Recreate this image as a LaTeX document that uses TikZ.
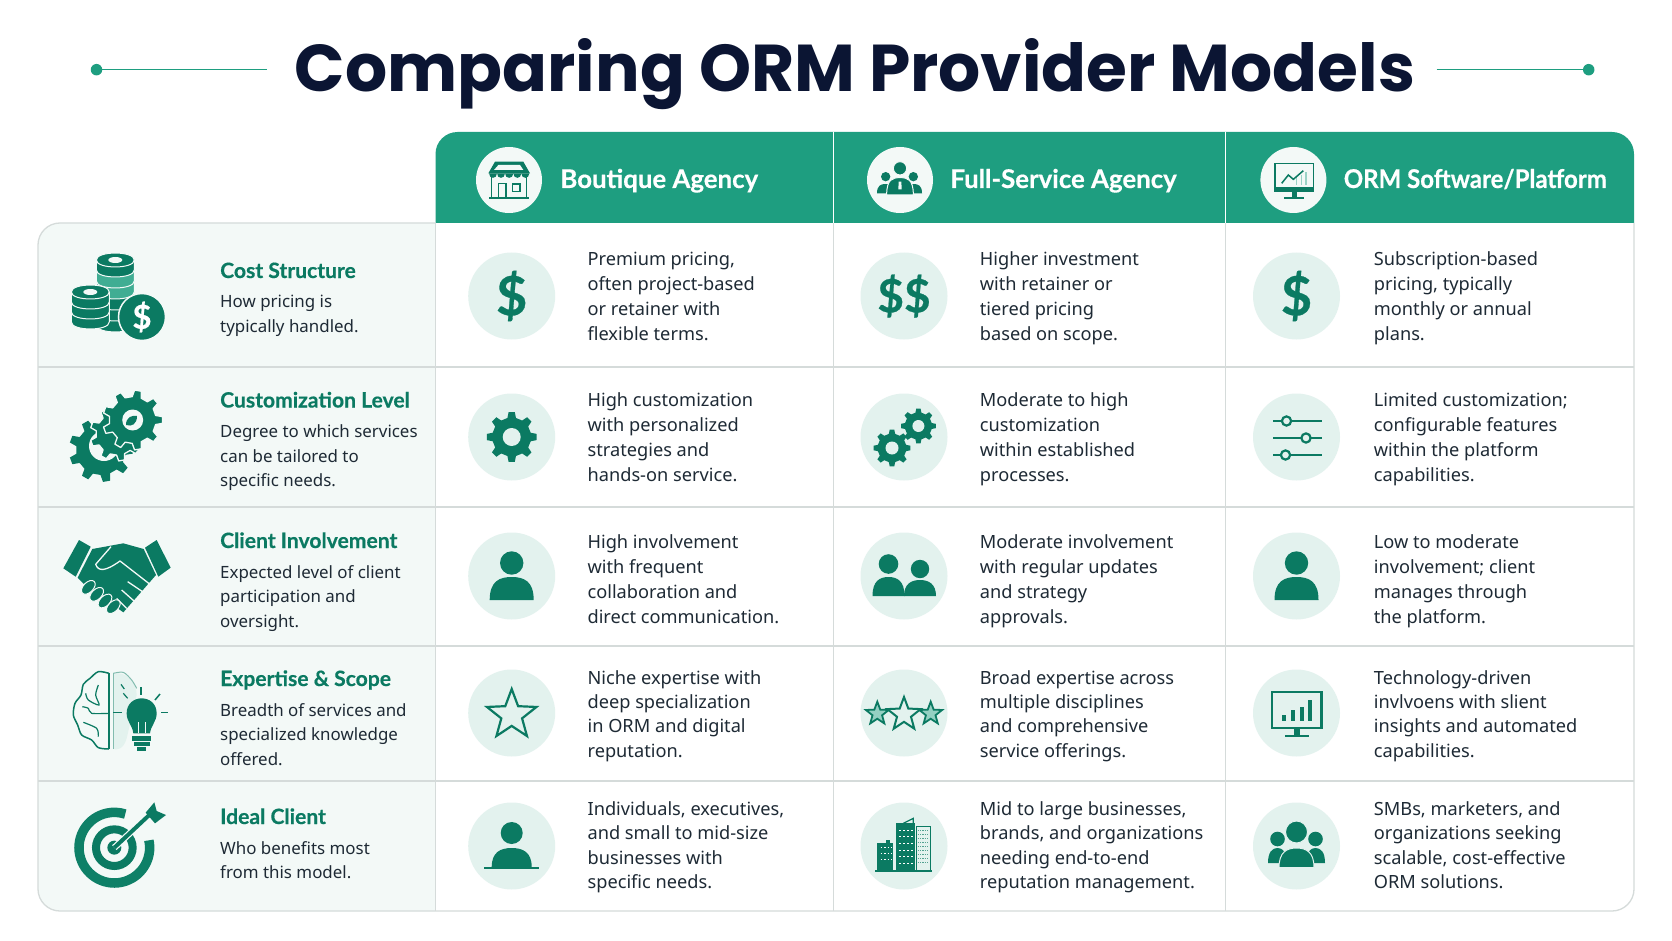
\documentclass[tikz,border=0pt]{standalone}
\usepackage{fontspec}
\setmainfont{Noto Sans}
\newfontfamily\ormbold{Lato}[BoldFeatures={FakeBold=0.5}]
\newfontfamily\ormheavy{Poppins}
\usetikzlibrary{positioning}
\definecolor{ormgreen}{HTML}{1E9E80}
\definecolor{ormdark}{HTML}{0B7A62}
\definecolor{ormpale}{HTML}{E3F2EE}
\definecolor{ormhead}{HTML}{F3F9F7}
\definecolor{ormline}{HTML}{D5DBDA}
\definecolor{ormnavy}{HTML}{0B1533}
\definecolor{ormtext}{HTML}{1E2A35}
% icon parts: all numbers are pixels of the page
\newcommand{\ormgear}[4][]{%
  \pgfmathsetmacro\gearstep{360/#4}
  \path[#1,shift={(#2)},line join=round] (-.28*\gearstep:.78*#3)
    \foreach \k in {1,...,#4}{
      -- ({(\k-1-.16)*\gearstep}:#3) -- ({(\k-1+.16)*\gearstep}:#3)
      -- ({(\k-1+.28)*\gearstep}:.78*#3) -- ({(\k-.28)*\gearstep}:.78*#3)
    } -- cycle;}
\newcommand{\ormstar}[3][]{%
  \path[#1,shift={(#2)},line join=miter] (-90:#3)
    \foreach \k in {1,...,9}{ -- ({-90+36*\k}:{(1-.58*mod(\k,2))*#3}) } -- cycle;}
% [options]{centre}{head y}{head radius}{half width}{top}{bottom}
\newcommand{\ormperson}[7][fill=ormdark]{%
  \begin{scope}[shift={(#2)}]
  \path[#1] (0,#3) circle[radius=#4];
  \path[#1] (-#5,#7) .. controls (-#5,#6+4) and (-.55*#5,#6) .. (0,#6)
     .. controls (.55*#5,#6) and (#5,#6+4) .. (#5,#7) -- cycle;
  \end{scope}}
\newcommand{\ormcoin}[3][ormdark]{%
  \fill[#1,draw=ormhead,line width=1pt] (#2-19,#3) -- (#2-19,#3+10)
    .. controls (#2-19,#3+19.3) and (#2+19,#3+19.3) .. (#2+19,#3+10) -- (#2+19,#3)
    .. controls (#2+19,#3-9.3) and (#2-19,#3-9.3) .. (#2-19,#3) -- cycle;}
\newcommand{\ormcointop}[2]{%
  \draw[ormhead,line width=1pt] (#1-19,#2) .. controls (#1-19,#2+9.3) and (#1+19,#2+9.3) .. (#1+19,#2);
  \fill[ormhead] (#1,#2) ellipse[x radius=7,y radius=3];}

\begin{document}
\begin{tikzpicture}[x=1pt, y=-1pt,
node distance= 10pt and 32pt,
     heading/.style = {font=\fontsize{66.2}{70}\selectfont\ormheavy\bfseries, text=ormnavy, inner sep=0pt},
    titledot/.style = {circle, fill=ormgreen, minimum size=11.5pt, inner sep=0pt},
   titleline/.style = {ormgreen, line width=1.5pt},
     headball/.style = {circle, fill=ormhead, minimum size=66pt, inner sep=0pt},
     headtext/.style = {font=\fontsize{25.8}{28}\selectfont\ormbold\bfseries, text=white, inner sep=0pt,
                        text height=18pt, text depth=6pt, yshift=-2pt},
     rowtitle/.style = {font=\fontsize{21.1}{24}\selectfont\ormbold\bfseries, text=ormdark, inner sep=0pt,
                        anchor=west, text height=14pt, text depth=4pt},
      rowtext/.style = {font=\fontsize{16.9}{24.5}\selectfont, text=ormtext, inner sep=0pt, align=left,
                        below=13pt of #1.south west, anchor=north west,
                        execute at begin node=\strut, execute at end node=\strut},
         ball/.style = {circle, fill=ormpale, minimum size=87pt, inner sep=0pt, text=ormdark,
                        font=\fontsize{54}{58}\selectfont\ormbold\bfseries},
     celltext/.style = {font=\fontsize{18.2}{24.9}\selectfont, text=ormtext, inner sep=0pt, align=left,
                        yshift=-4pt,
                        execute at begin node=\strut, execute at end node=\strut},
    celltight/.style = {celltext, font=\fontsize{18.2}{24.2}\selectfont, yshift=-.5pt},
         grid/.style = {ormline, line width=1.3pt},
     iconline/.style = {ormdark, line width=2.2pt},
         coin/.style = {circle, fill=ormdark, draw=ormhead, line width=1.5pt, minimum size=47pt,
                        inner sep=0pt, text=white, font=\fontsize{33}{35}\selectfont\ormbold\bfseries}
                    ]
\useasboundingbox (0,0) rectangle (1672,941);
\fill[white] (0,0) rectangle (1672,941);

 % heading
\node (title)  [heading] at (855,74) {Comparing ORM Provider Models};
\node (dotL)   [titledot] at (96.5,69.7) {};
\coordinate (endL) at (266.5,69.7);
\node (dotR)   [titledot] at (1588.7,69.7) {};
\coordinate (endR) at (1436.7,69.7);
\draw[titleline] (dotL) -- (endL);
\draw[titleline] (endR) -- (dotR);

 % table
\fill[ormhead] (435.5,223) [rounded corners=22pt] -- (38,223) -- (38,911) [sharp corners] -- (435.5,911) -- cycle;
\fill[ormgreen] (435.5,223) [rounded corners=22pt] -- (435.5,132) -- (1634,132) [sharp corners] -- (1634,223) -- cycle;
\draw[grid] (435.5,223) [rounded corners=22pt] -- (38,223) -- (38,911) -- (1634,911) -- (1634,223);
\draw[grid] (38,367) -- (1634,367);
\draw[grid] (38,507) -- (1634,507);
\draw[grid] (38,646) -- (1634,646);
\draw[grid] (38,781) -- (1634,781);
\draw[grid, line width=1pt] (435.5,223) -- (435.5,911);
\draw[grid, line width=1pt] (833,223) -- (833,911);
\draw[grid, line width=1pt] (1225.7,223) -- (1225.7,911);
\draw[white, line width=1pt] (833,132) -- (833,223);
\draw[white, line width=1pt] (1225.7,132) -- (1225.7,223);

 % column heads
\node (headA)  [headball] at (509,180) {};
\node (headAt) [headtext, right=18pt of headA] {Boutique Agency};
\node (headB)  [headball] at (900,180) {};
\node (headBt) [headtext, right=17pt of headB] {Full-Service Agency};
\node (headC)  [headball] at (1293.4,180) {};
\node (headCt) [headtext, right=17pt of headC] {\addfontfeature{FakeStretch=0.93}ORM Software/Platform};

 % shop
\begin{scope}[shift={(470,140)},scale=1/3]
\draw[iconline, line width=1.6pt] (65,105) -- (65,175) (170,105) -- (170,175);
\draw[iconline] (58,175) -- (178,175);
\draw[iconline, line width=1.6pt] (85,175) -- (85,130) -- (108,130) -- (108,175);
\draw[iconline, line width=1.6pt] (128,132) rectangle (150,155);
\fill[ormdark] (75,65) -- (160,65) -- (180,100) -- (55,100) -- cycle;
\fill[ormhead] (85,75) -- (150,75) -- (160,90) -- (72,90) -- cycle;
\fill[ormdark] (57,100) -- (178,100) .. controls (178,118) and (154,118) .. (154,100)
   .. controls (154,118) and (130,118) .. (130,100) .. controls (130,118) and (105,118) .. (105,100)
   .. controls (105,118) and (81,118) .. (81,100) .. controls (81,118) and (57,118) .. (57,100);
\end{scope}
 % people
\begin{scope}[shift={(860,140)},scale=1/3]
\ormperson[fill=ormdark]{77,110}{0}{14}{26}{22}{50}
\ormperson[fill=ormdark]{160,110}{0}{14}{26}{22}{50}
\ormperson[fill=ormdark,draw=ormhead,line width=1pt]{120,85}{0}{20}{40}{28}{80}
\fill[ormhead] (116,125) -- (124,125) -- (125,148) -- (115,148) -- cycle;
\end{scope}
 % monitor
\begin{scope}[shift={(1255,140)},scale=1/3]
\draw[iconline, line width=1.6pt] (60,70) rectangle (175,155);
\fill[ormdark] (60,142) rectangle (175,155);
\fill[ormdark] (110,155) rectangle (125,172);
\fill[ormdark] (88,172) rectangle (148,178);
\fill[ormgreen!45] (122,135) rectangle (127,112);
\fill[ormgreen!45] (137,135) rectangle (142,105);
\fill[ormgreen!45] (150,135) rectangle (155,95);
\draw[iconline, line width=1.5pt] (80,130) -- (100,105) -- (115,118) -- (145,92);
\end{scope}

 % row heads
\node (costT)  [rowtitle] at (220,273) {Cost Structure};
\node (costD)  [rowtext=costT] {How pricing is\\typically handled.};
\node (custT)  [rowtitle] at (220,402.5) {Customization Level};
\node (custD)  [rowtext=custT] {Degree to which services\\can be tailored to\\specific needs.};
\node (invT)   [rowtitle] at (220,543) {Client Involvement};
\node (invD)   [rowtext=invT] {Expected level of client\\participation and\\oversight.};
\node (expT)   [rowtitle] at (220,681) {Expertise \& Scope};
\node (expD)   [rowtext=expT] {Breadth of services and\\specialized knowledge\\offered.};
\node (idealT) [rowtitle] at (220,819) {Ideal Client};
\node (idealD) [rowtext=idealT] {Who benefits most\\from this model.};

 % coins
\ormcoin{115.3}{315} \ormcoin{115.3}{304} \ormcoin{115.3}{293}
\ormcoin[ormgreen!85]{115.3}{282} \ormcoin[ormgreen!85]{115.3}{271} \ormcoin{115.3}{260} \ormcointop{115.3}{260}
\ormcoin{90.3}{312} \ormcoin{90.3}{302} \ormcoin{90.3}{292} \ormcointop{90.3}{292}
\node (coinD) [coin] at (142,317) {\$};

 % gears
\ormgear[fill=ormdark]{101,450}{32}{9}
\fill[ormhead] (104,446) circle[radius=15];
\ormgear[fill=ormdark,draw=ormhead,line width=1.3pt]{117,434}{27}{9}
\ormgear[fill=ormdark,draw=ormhead,line width=1.3pt]{132.7,420}{30}{9}
\fill[ormhead] (132.7,420) circle[radius=10.5];
\fill[ormdark] (126,425) .. controls (126,417) and (132,415) .. (137,416) .. controls (137,424) and (132,427) .. (126,425);

 % handshake
\begin{scope}[shift={(55,525)},scale=1/3]
\fill[ormdark] (72,45) -- (107,65) -- (62,155) -- (25,130) -- cycle;
\fill[ormdark] (305,45) -- (270,68) -- (310,155) -- (347,128) -- cycle;
\fill[ormdark] (112,72) -- (205,55) -- (266,72) -- (303,150) -- (205,262) -- (90,180) -- (68,158) -- cycle;
\foreach \fx/\fy in {100/187,125/208,150/228,175/245}
  \fill[ormdark,draw=ormhead,line width=1pt,rotate around={45:(\fx,\fy)}] (\fx,\fy) ellipse[x radius=25,y radius=15];
\draw[ormhead,line width=1.3pt,line join=round] (168,65) -- (122,118) .. controls (130,140) and (150,140) .. (195,108) -- (285,178);
\draw[ormhead,line width=1.3pt] (218,170) -- (270,205);
\draw[ormhead,line width=1.3pt] (200,195) -- (245,235);
\draw[ormhead,line width=1.3pt] (185,220) -- (215,250);
\end{scope}

 % brain and bulb
\begin{scope}[shift={(55,525)},scale=1/3]
\fill[ormpale] (175,445) .. controls (215,440) and (245,470) .. (245,510) -- (215,640) .. controls (205,675) and (185,675) .. (175,672) -- cycle;
\draw[ormdark!45!ormpale, line width=1pt] plot[smooth] coordinates {(175,445) (205,442) (230,465) (245,490)};
\draw[ormdark!45!ormpale, line width=1pt] (175,445) -- (175,672);
\draw[iconline, line width=1.5pt, line join=round] plot[smooth] coordinates {(162,445) (130,440) (105,460) (85,478) (78,510) (60,535) (55,570) (68,600) (80,630) (110,645) (130,668) (162,672)};
\draw[iconline, line width=1.5pt] (162,445) -- (162,672);
\draw[iconline, line width=1.2pt] plot[smooth] coordinates {(130,480) (122,510) (132,540) (100,525) (92,505)};
\draw[iconline, line width=1.2pt] plot[smooth] coordinates {(162,565) (110,565) (100,550) (82,545)};
\draw[iconline, line width=1.2pt] plot[smooth] coordinates {(85,592) (125,610) (130,635)};
\draw[iconline, line width=1.2pt] (175,563) -- (200,563);
\draw[iconline, line width=1.2pt] (198,478) -- (208,492) (205,505) -- (218,520);
\draw[iconline, line width=1.5pt] (258,487) -- (258,510);
\draw[iconline, line width=1.5pt] (315,507) -- (300,525);
\draw[iconline, line width=1.5pt] (318,563) -- (340,563);
\fill[ormdark] (235,625) .. controls (232,600) and (215,590) .. (215,565) .. controls (215,505) and (305,505) .. (305,565)
   .. controls (305,590) and (288,600) .. (285,625) -- cycle;
\draw[ormhead,line width=1pt] (250,625) -- (250,590) (270,625) -- (270,590);
\fill[ormdark] (232,632) rectangle (288,647);
\fill[ormdark] (236,652) rectangle (284,662);
\fill[ormdark] (246,665) rectangle (274,677);
\end{scope}

 % target
\begin{scope}[shift={(55,525)},scale=1/3]
\draw[ormdark!85!ormgreen, line width=9.5pt] (178,968)+(-12:106) arc[start angle=-12,end angle=288,radius=106];
\draw[ormdark, line width=8pt] (178,968) circle[radius=55];
\fill[ormdark] (178,968) circle[radius=21];
\draw[ormhead, line width=6.5pt] (178,968) -- (285,868);
\draw[ormdark, line width=4pt] (178,968) -- (285,868);
\fill[ormdark] (272,863) -- (298,832) -- (305,858) -- (333,870) -- (300,895) -- cycle;
\end{scope}

 % cells, first column
\node (b11) [ball] at (511.7,296) {\$};
\node (t11) [celltext, right=of b11] {Premium pricing,\\often project-based\\or retainer with\\flexible terms.};
\node (b12) [ball] at (511.7,437) {};
\node (t12) [celltext, right=of b12] {High customization\\with personalized\\strategies and\\hands-on service.};
\node (b13) [ball] at (511.7,576) {};
\node (t13) [celltext, right=of b13, yshift=-2.5pt] {High involvement\\with frequent\\collaboration and\\direct communication.};
\node (b14) [ball] at (511.7,713) {};
\node (t14) [celltight, right=of b14] {Niche expertise with\\deep specialization\\in ORM and digital\\reputation.};
\node (b15) [ball] at (511.7,846) {};
\node (t15) [celltight, right=of b15, yshift=1.8pt] {Individuals, executives,\\and small to mid-size\\businesses with\\specific needs.};
 % second column
\node (b21) [ball, font=\fontsize{46}{48}\selectfont\ormbold\bfseries] at (904,296) {\$\$};
\node (t21) [celltext, right=of b21] {Higher investment\\with retainer or\\tiered pricing\\based on scope.};
\node (b22) [ball] at (904,437) {};
\node (t22) [celltext, right=of b22] {Moderate to high\\customization\\within established\\processes.};
\node (b23) [ball] at (904,576) {};
\node (t23) [celltext, right=of b23, yshift=-2.5pt] {Moderate involvement\\with regular updates\\and strategy\\approvals.};
\node (b24) [ball] at (904,713) {};
\node (t24) [celltight, right=of b24] {Broad expertise across\\multiple disciplines\\and comprehensive\\service offerings.};
\node (b25) [ball] at (904,846) {};
\node (t25) [celltight, right=of b25, yshift=1.8pt] {Mid to large businesses,\\brands, and organizations\\needing end-to-end\\reputation management.};
 % third column
\node (b31) [ball] at (1296.5,296) {\$};
\node (t31) [celltext, right=33.5pt of b31] {Subscription-based\\pricing, typically\\monthly or annual\\plans.};
\node (b32) [ball] at (1296.5,437) {};
\node (t32) [celltext, right=33.5pt of b32] {Limited customization;\\configurable features\\within the platform\\capabilities.};
\node (b33) [ball] at (1296.5,576) {};
\node (t33) [celltext, right=33.5pt of b33, yshift=-2.5pt] {Low to moderate\\involvement; client\\manages through\\the platform.};
\node (b34) [ball] at (1296.5,713) {};
\node (t34) [celltight, right=33.5pt of b34] {Technology-driven\\invlvoens with slient\\insights and automated\\capabilities.};
\node (b35) [ball] at (1296.5,846) {};
\node (t35) [celltight, right=33.5pt of b35, yshift=1.8pt] {SMBs, marketers, and\\organizations seeking\\scalable, cost-effective\\ORM solutions.};

 % icons in the balls
\ormgear[fill=ormdark]{511.7,437}{25}{8}
\fill[ormpale] (b12) circle[radius=9];
\ormperson{511.7,576}{-13}{11.7}{22}{1}{24}
\ormstar[draw=ormdark,line width=2.2pt]{511.7,715}{26}
\begin{scope}[shift={(511.7,846)}]
\ormperson{0,0}{-13}{11}{20}{2}{21}
\fill[ormdark] (-27.7,20.8) rectangle (27.7,23.2);
\end{scope}

\ormgear[fill=ormdark]{892,448}{18.5}{8}
\fill[ormpale] (892,448) circle[radius=6.5];
\ormgear[fill=ormdark]{918.4,426}{17.5}{8}
\fill[ormpale] (918.4,426) circle[radius=6];
\ormperson{920,576}{-7}{9.2}{16}{4}{20}
\ormperson{888.5,576}{-12}{9.8}{16}{1}{20}
\ormstar[draw=ormdark,fill=ormpale!60!ormgreen,line width=1.8pt]{877.3,713.7}{12}
\ormstar[draw=ormdark,fill=ormpale!60!ormgreen,line width=1.8pt]{930.7,713.7}{12}
\ormstar[draw=ormdark,fill=ormpale,line width=2pt]{904,714.5}{17.5}
 % buildings
\begin{scope}[shift={(860,660)},scale=1/3]
\fill[ormdark] (52,548) rectangle (100,633);
\fill[ormdark] (78,540) rectangle (90,548);
\fill[ormdark] (108,490) rectangle (165,633);
\draw[ormdark, line width=1.3pt] (130,490) -- (160,475) -- (160,490);
\draw[ormdark, line width=1pt] (168,498) rectangle (210,633);
\draw[ormdark, line width=1.5pt] (45,633) -- (215,633);
\foreach \wy in {563,580,597}
  \draw[white, line width=1pt, dash pattern=on 1.5pt off 2pt] (62,\wy) -- (95,\wy);
\foreach \wy in {510,530,550,570,590,610}
  \draw[white, line width=1pt, dash pattern=on 1.5pt off 2.5pt] (118,\wy) -- (160,\wy);
\foreach \wy in {510,522,534,546,558,570,582,594,606}
  \draw[ormdark!70, line width=.9pt, dash pattern=on 1.2pt off 1.2pt] (173,\wy) -- (206,\wy);
\end{scope}

 % sliders
\draw[iconline, line width=2.8pt] (1273,421) -- (1321.5,421);
\draw[iconline, line width=2.8pt] (1273,438) -- (1321.5,438);
\draw[iconline, line width=2.8pt] (1273,455) -- (1321.5,455);
\draw[iconline, fill=ormpale] (1286.5,421) circle[radius=4.6];
\draw[iconline, fill=ormpale] (1306,438) circle[radius=4.6];
\draw[iconline, fill=ormpale] (1285.5,455) circle[radius=4.6];
\ormperson{1296.5,576}{-13}{11.7}{22}{1}{24}
 % chart screen
\begin{scope}[shift={(1296.5,713)}]
\draw[iconline, line width=2.4pt] (-24.5,-21) rectangle (25,15);
\fill[ormdark] (-3,15) rectangle (3,23);
\fill[ormdark] (-12,21.5) rectangle (12,24);
\fill[ormdark] (-15,2) rectangle (-11,8);
\fill[ormdark] (-6,-3) rectangle (-2,8);
\fill[ormdark] (3,-6) rectangle (7,8);
\fill[ormdark] (11,-13) rectangle (15,8);
\end{scope}
 % three people
\ormperson{1277.5,846}{-7}{7.3}{9.5}{2}{17}
\ormperson{1315.5,846}{-7}{7.3}{9.5}{2}{17}
\ormperson[fill=ormdark,draw=ormpale,line width=1pt]{1296.5,846}{-14}{11}{17.5}{2}{21.5}
\end{tikzpicture}
\end{document}
